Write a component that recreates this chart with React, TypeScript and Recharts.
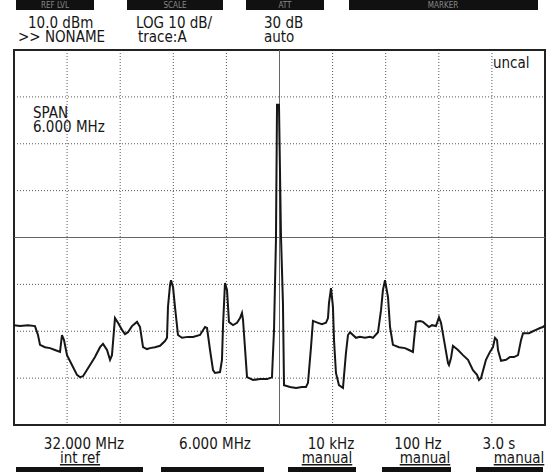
import { LineChart, Line, XAxis, YAxis, CartesianGrid, ReferenceLine, ReferenceArea } from 'recharts'

// sweep trace (MHz, dBm)
const FREQ_MHZ = [
  29.0, 29.068, 29.158, 29.237, 29.271, 29.294, 29.35, 29.407, 29.463, 29.52,
  29.542, 29.565, 29.599, 29.655, 29.712, 29.746, 29.78, 29.859, 29.915, 29.972,
  30.006, 30.051, 30.085, 30.107, 30.141, 30.175, 30.22, 30.254, 30.288, 30.333,
  30.39, 30.424, 30.458, 30.503, 30.537, 30.593, 30.65, 30.706, 30.729, 30.74,
  30.763, 30.774, 30.797, 30.819, 30.853, 30.898, 30.966, 31.023, 31.102, 31.158,
  31.181, 31.215, 31.249, 31.271, 31.328, 31.35, 31.362, 31.384, 31.407, 31.429,
  31.475, 31.52, 31.554, 31.576, 31.588, 31.633, 31.701, 31.78, 31.859, 31.915,
  31.938, 31.96, 31.972, 31.994, 32.017, 32.039, 32.051, 32.119, 32.186, 32.254,
  32.299, 32.322, 32.356, 32.378, 32.435, 32.48, 32.525, 32.548, 32.559, 32.582,
  32.604, 32.616, 32.638, 32.672, 32.717, 32.751, 32.774, 32.797, 32.83, 32.864,
  32.909, 32.966, 33.022, 33.056, 33.113, 33.147, 33.169, 33.192, 33.226, 33.249,
  33.282, 33.35, 33.418, 33.463, 33.508, 33.52, 33.542, 33.588, 33.621, 33.689,
  33.723, 33.768, 33.802, 33.825, 33.859, 33.904, 33.915, 33.938, 33.96, 34.017,
  34.073, 34.13, 34.186, 34.232, 34.254, 34.277, 34.333, 34.378, 34.412, 34.435,
  34.458, 34.469, 34.503, 34.559, 34.605, 34.65, 34.695, 34.729, 34.752, 34.819,
  34.864, 34.898, 34.944, 34.977, 35.0,
]
const LEVEL_DBM = [
  -48.7, -48.9, -48.7, -48.9, -50.8, -52.9, -53.4, -53.6, -54.0, -54.4,
  -50.8, -51.9, -55.1, -57.2, -59.3, -59.8, -59.6, -57.2, -55.5, -53.4,
  -52.7, -54.0, -56.1, -55.1, -47.2, -48.2, -49.7, -50.6, -50.2, -48.9,
  -48.0, -49.1, -53.4, -53.8, -53.6, -53.4, -53.1, -52.1, -51.4, -44.8,
  -40.1, -39.1, -40.6, -44.8, -50.8, -51.4, -51.2, -51.2, -50.8, -49.1,
  -49.3, -54.0, -58.3, -58.9, -58.7, -56.1, -48.7, -39.7, -41.2, -48.0,
  -48.7, -48.2, -47.2, -46.1, -47.6, -59.8, -60.4, -60.2, -60.2, -59.8,
  -49.7, -30.5, -1.7, -1.7, -29.9, -44.0, -61.5, -61.9, -62.1, -61.9,
  -61.9, -61.0, -53.4, -47.8, -48.2, -48.5, -48.2, -47.2, -44.0, -40.8,
  -44.8, -51.9, -58.9, -61.5, -62.1, -54.6, -50.8, -50.2, -50.8, -51.4,
  -51.2, -51.4, -51.2, -51.4, -50.2, -45.5, -41.2, -39.1, -42.7, -49.1,
  -52.9, -53.4, -53.6, -54.0, -54.4, -51.9, -48.0, -47.8, -48.0, -49.1,
  -48.7, -48.9, -47.0, -48.2, -51.9, -56.8, -57.2, -55.7, -53.1, -54.0,
  -55.1, -56.1, -58.3, -59.3, -60.4, -60.0, -56.1, -54.4, -53.4, -51.4,
  -51.9, -54.0, -56.3, -56.1, -55.5, -55.5, -55.1, -51.9, -50.4, -50.4,
  -50.0, -49.7, -49.3, -49.1, -48.7,
]

const FREQ_TICKS = [29, 29.6, 30.2, 30.8, 31.4, 32, 32.6, 33.2, 33.8, 34.4, 35]
const LEVEL_TICKS = [10, 0, -10, -20, -30, -40, -50, -60, -70]

const TOP_KEYS = ['REF LVL', 'SCALE', 'ATT', 'MARKER']

const rows = FREQ_MHZ.map((f, i) => ({ f, dbm: LEVEL_DBM[i] }))

const FONT = "'DejaVu Sans Condensed', 'DejaVu Sans', sans-serif"
const INK = '#161616'

export default function App() {
  return (
    <div style={{ position: 'absolute', left: 0, top: 0, width: 552, height: 472, background: '#fff', overflow: 'hidden' }}>
      <LineChart width={552} height={472} data={rows} margin={{ top: 50, right: 7, bottom: 47, left: 14 }}>
        <XAxis type="number" dataKey="f" domain={[29, 35]} ticks={FREQ_TICKS} allowDataOverflow hide />
        <YAxis type="number" domain={[-70, 10]} ticks={LEVEL_TICKS} allowDataOverflow hide />
        <CartesianGrid stroke="#555" strokeDasharray="1 2" />
        <ReferenceLine x={32} stroke="#666" strokeWidth={1} />
        <ReferenceLine y={-30} stroke="#666" strokeWidth={1} />
        <ReferenceArea x1={29} x2={35} y1={-70} y2={10} fill="none" stroke="#222" strokeWidth={2} />
        <Line type="linear" dataKey="dbm" stroke={INK} strokeWidth={2} dot={false} isAnimationActive={false} />
      </LineChart>

      <svg width={552} height={472} style={{ position: 'absolute', left: 0, top: 0, pointerEvents: 'none' }}
        fontFamily={FONT} fontSize={15} fill={INK}>
        {/* soft-key bars */}
        <rect x={16} y={0} width={78} height={10} fill="#111" />
        <rect x={127} y={0} width={96} height={10} fill="#111" />
        <rect x={246} y={0} width={78} height={10} fill="#111" />
        <rect x={349} y={0} width={189} height={10} fill="#111" />
        {TOP_KEYS.map((k, i) => (
          <text key={k} x={[55, 175, 285, 443][i]} y={8} textAnchor="middle" fontSize={8} fill="#888">{k}</text>
        ))}
        <rect x={16} y={467} width={127} height={6} fill="#111" />
        <rect x={161} y={467} width={103} height={6} fill="#111" />
        <rect x={288} y={467} width={68} height={6} fill="#111" />
        <rect x={382} y={467} width={69} height={6} fill="#111" />
        <rect x={476} y={467} width={67} height={6} fill="#111" />

        <text x={28} y={28}>10.0 dBm</text>
        <text x={18} y={42}>&gt;&gt; NONAME</text>
        <text x={136} y={28}>LOG 10 dB/</text>
        <text x={138} y={42}>trace:A</text>
        <text x={264} y={28}>30 dB</text>
        <text x={264} y={42}>auto</text>

        <text x={33} y={118}>SPAN</text>
        <text x={33} y={132}>6.000 MHz</text>
        <text x={493} y={68}>uncal</text>

        <text x={84} y={449} textAnchor="middle">32.000 MHz</text>
        <text x={80} y={463} textAnchor="middle" textDecoration="underline">int ref</text>
        <text x={215} y={449} textAnchor="middle">6.000 MHz</text>
        <text x={331} y={449} textAnchor="middle">10 kHz</text>
        <text x={327} y={463} textAnchor="middle" textDecoration="underline">manual</text>
        <text x={418} y={449} textAnchor="middle">100 Hz</text>
        <text x={425} y={463} textAnchor="middle" textDecoration="underline">manual</text>
        <text x={499} y={449} textAnchor="middle">3.0 s</text>
        <text x={519} y={463} textAnchor="middle" textDecoration="underline">manual</text>
      </svg>
    </div>
  )
}
